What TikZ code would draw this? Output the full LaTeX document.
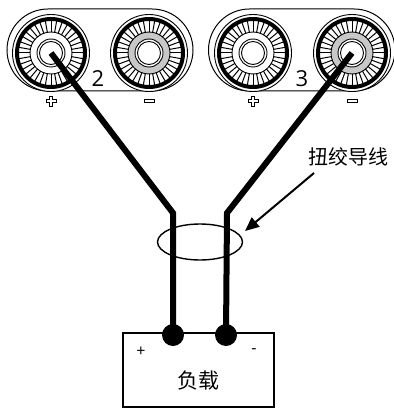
\documentclass[tikz,border=0pt]{standalone}
\usepackage{fontspec}
\setmainfont{Open Sans}
\newfontfamily\cjk{Noto Sans CJK SC}
\usetikzlibrary{arrows.meta,shapes.geometric}
\definecolor{knobgray}{RGB}{200,200,200}

\tikzset{
  panel/.style={draw=black, line width=1pt, fill=white, rounded corners=41pt},
  wire/.style={line width=6pt, line join=miter, line cap=butt},
  blob/.style={circle, fill=black, minimum size=22pt, inner sep=0pt},
  pointer/.style={line width=2pt, -{Triangle[length=14pt, width=12pt]}},
  loadbox/.style={draw=black, line width=1.5pt, fill=white},
  sign/.style={draw=black, line width=0.9pt, fill=white},
  pics/binding/.style={code={
    \draw[line width=0.9pt, fill=white] (0,0) circle (38.5);
    \fill[#1, even odd rule] (0,0) circle (21) (0,0) circle (14);
    \draw[line width=4pt] (0,0) circle (34);
    \draw[line width=0.9pt] (0,0) circle (21);
    \foreach \a in {0,10,...,350} \draw[line width=1pt] (\a:21) -- (\a:32.5);
    \draw[line width=0.9pt] (0,0) circle (14);
    \draw[line width=0.9pt] (0,0) circle (11.5);
  }},
  pics/plussign/.style={code={
    \draw[sign] (-1.7,-5) -- (1.7,-5) -- (1.7,-1.7) -- (5,-1.7) -- (5,1.7)
      -- (1.7,1.7) -- (1.7,5) -- (-1.7,5) -- (-1.7,1.7) -- (-5,1.7)
      -- (-5,-1.7) -- (-1.7,-1.7) -- cycle;
  }},
  pics/minussign/.style={code={
    \draw[sign] (-5,-1.8) rectangle (5,1.8);
  }}
}

\begin{document}
\begin{tikzpicture}[x=1pt, y=-1pt]
  \useasboundingbox (0,0) rectangle (393,409);

  % the two output panels
  \draw[panel] (7,9) rectangle (193,91);
  \draw[panel] (208.5,9) rectangle (395,91);

  % binding posts (white = +, gray = -)
  \pic at (51,53)  {binding=white};
  \pic at (149,53) {binding=knobgray};
  \pic at (253,53) {binding=white};
  \pic at (352,53) {binding=knobgray};

  \node (t1) at (51,53) [inner sep=0pt] {};
  \node (t2) at (149,53) [inner sep=0pt] {};
  \node (t3) at (253,53) [inner sep=0pt] {};
  \node (t4) at (352,53) [inner sep=0pt] {};

  % channel numbers
  \node (ch2) at (98,79) {\fontsize{22}{24}\selectfont 2};
  \node (ch3) at (302,79) {\fontsize{22}{24}\selectfont 3};

  % polarity marks under the posts
  \pic at (51,101)  {plussign};
  \pic at (149,101) {minussign};
  \pic at (253,101) {plussign};
  \pic at (352,101) {minussign};

  % load
  \draw[loadbox] (123,333) rectangle (274,407);
  \node (loadname) at (198,381) {\cjk\fontsize{21}{23}\selectfont 负载};
  \node (lplus) at (141,352) {\fontsize{16}{18}\selectfont +};
  \node (lminus) at (254,351) {\fontsize{16}{18}\selectfont -};

  % twisted pair marker
  \node[draw=black, line width=1.4pt, ellipse, minimum width=85pt, minimum height=36pt,
        inner sep=0pt] (twist) at (200,242) {};

  % leads
  \coordinate (bendL) at (173,213);
  \coordinate (bendR) at (227,213);
  \node[blob] (jL) at (173,335) {};
  \node[blob] (jR) at (226,335) {};
  \draw[wire] (t1.center) -- (bendL) -- (jL.center);
  \draw[wire] (t4.center) -- (bendR) -- (jR.center);

  % callout
  \node (callout) at (348,157) {\cjk\fontsize{20}{22}\selectfont 扭绞导线};
  \coordinate (tip) at (245,231);
  \draw[pointer] (314,173) -- (tip);
\end{tikzpicture}
\end{document}
